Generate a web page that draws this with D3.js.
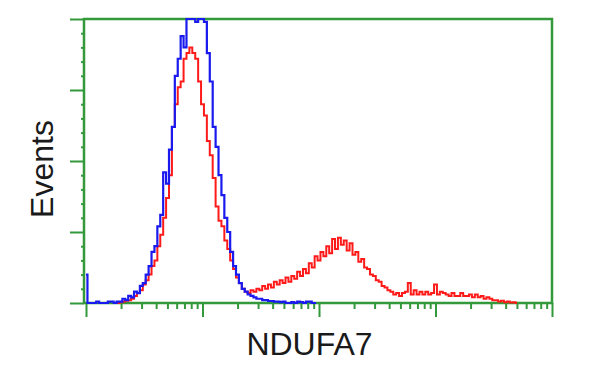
<!DOCTYPE html>
<html>
<head>
<meta charset="utf-8">
<script src="https://cdn.jsdelivr.net/npm/d3@7"></script>
<style>
  html, body { margin: 0; padding: 0; background: #fff; }
  svg { display: block; }
</style>
</head>
<body>
<svg id="chart" width="600" height="375"></svg>
<script>
// ---- data (relative event counts, 0..100 = full scale), one value per channel ----
// channel i sits at fluorescence 10^(i * channelStep)
const channelStep = 0.025;
const xDomain = [1, 10000];
const yDomain = [0, 100];
const xLabel = "NDUFA7";
const yLabel = "Events";
const seriesNames = ["control", "NDUFA7"];

// blue: control (starts at channel 0)
const blueStart = 0;
const blueValues = [
  10, 0, 0, 0, 0.5, 0, 0, 0, 0.5, 0.5,
  0, 0.5, 0.5, 1.5, 1, 2.5, 2, 4, 3.5, 6,
  7, 10, 13, 18, 20, 27, 31, 46, 42, 54,
  62, 80, 86, 94, 90, 100, 100, 100, 99, 100,
  100, 99, 88, 78, 62, 55, 45, 38, 30, 25,
  18, 13, 10, 7, 5, 4, 3, 2.5, 2, 1.5,
  1.5, 1, 1, 0.7, 0.7, 0.5, 0.5, 0.3, 0.5, 0,
  0, 0.3, 0, 0.5, 0.3, 0, 0.5, 0.5, 0, 0
];

// red: NDUFA7 stained (starts at channel 10)
const redStart = 10;
const redValues = [
  0, 0, 0.3, 0.5, 0.8, 1, 1.5, 2.5, 3.5, 4.5,
  6.5, 8, 10, 13, 15, 20, 24, 30, 37, 45,
  62, 70, 76, 78, 86, 88, 90, 88, 86, 78,
  70, 66, 57, 52, 44, 34, 29, 27, 22, 19,
  15, 12, 9, 7, 5, 4, 3.5, 4.5, 4, 5,
  4.5, 6, 5, 6.5, 5.5, 7.5, 6.5, 8, 7, 9,
  7.5, 9.5, 8.5, 11, 9.5, 12, 10.5, 14, 12.5, 16.5,
  15, 18, 16.5, 20, 17.5, 22.5, 19, 23, 20.5, 22,
  18.5, 21, 17, 18, 14.5, 15.5, 12.5, 12, 10, 9.5,
  8, 7.5, 6, 5.5, 4.5, 4, 3, 3.5, 2.5, 3.5,
  4, 7, 3, 4.5, 3, 4, 3, 4, 3, 3.5,
  6.5, 3, 4, 3.5, 3, 2.5, 3.5, 2.5, 2.5, 3.5,
  2.5, 2.5, 3, 2, 3, 2, 2.5, 1.5, 2, 1.5,
  1, 1, 0.5, 0.8, 0.3, 0.5, 0.2, 0.3, 0
];

const yMajorTicks = [0, 25, 50, 75, 100];
const yMinorTicks = [5, 10, 15, 20, 30, 35, 40, 45, 55, 60, 65, 70, 80, 85, 90, 95];
const xMajorTicks = [1, 10, 100, 1000, 10000];
const xMinorTicks = [];
[1, 10, 100, 1000].forEach(d => { for (let k = 2; k <= 9; k++) xMinorTicks.push(d * k); });

// ---- drawing ----
const svg = d3.select("#chart");
const frameColor = "#33993a";

const x = d3.scaleLog().domain(xDomain).range([86, 552]);
const y = d3.scaleLinear().domain(yDomain).range([303, 19]);
const leftX = 84;

function toPoints(start, values) {
  return values.map((v, i) => [Math.pow(10, (start + i) * channelStep), v]);
}

// axes
const gx = svg.append("g").attr("transform", "translate(0,303)");
gx.call(d3.axisBottom(x).tickValues(xMajorTicks).tickSize(14).tickFormat(""));
const gxm = svg.append("g").attr("transform", "translate(0,303)");
gxm.call(d3.axisBottom(x).tickValues(xMinorTicks).tickSize(6).tickFormat(""));

const gy = svg.append("g").attr("transform", `translate(${leftX},0)`);
gy.call(d3.axisLeft(y).tickValues(yMajorTicks).tickSize(14).tickFormat(""));
const gym = svg.append("g").attr("transform", `translate(${leftX},0)`);
gym.call(d3.axisLeft(y).tickValues(yMinorTicks).tickSize(3).tickFormat(""));

svg.selectAll(".domain").remove();
svg.selectAll(".tick line").attr("stroke", frameColor).attr("stroke-width", 2);

// frame
svg.append("rect")
  .attr("x", leftX).attr("y", y(100))
  .attr("width", x(10000) - leftX).attr("height", y(0) - y(100))
  .attr("fill", "none").attr("stroke", frameColor).attr("stroke-width", 2.5);

// histogram lines
const line = d3.line()
  .x(d => x(d[0]))
  .y(d => y(d[1]))
  .curve(d3.curveStep);

svg.append("path")
  .datum(toPoints(redStart, redValues))
  .attr("class", seriesNames[1])
  .attr("d", line)
  .attr("fill", "none").attr("stroke", "#ff1a1a").attr("stroke-width", 2);

svg.append("path")
  .datum(toPoints(blueStart, blueValues))
  .attr("class", seriesNames[0])
  .attr("d", line)
  .attr("fill", "none").attr("stroke", "#1a1aee").attr("stroke-width", 2.2);

// labels
svg.append("text")
  .attr("x", 309.5).attr("y", 355)
  .attr("text-anchor", "middle")
  .attr("font-family", "Liberation Sans, Arial, sans-serif")
  .attr("font-size", 32).attr("fill", "#1a1a1a")
  .text(xLabel);

svg.append("text")
  .attr("transform", "translate(53,169) rotate(-90)")
  .attr("text-anchor", "middle")
  .attr("font-family", "Liberation Sans, Arial, sans-serif")
  .attr("font-size", 32).attr("fill", "#1a1a1a")
  .text(yLabel);
</script>
</body>
</html>
